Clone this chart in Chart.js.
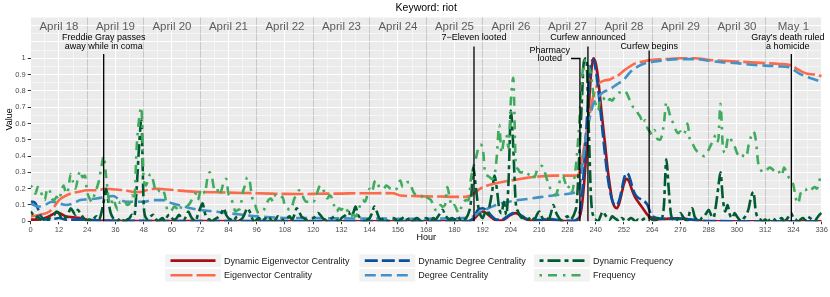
<!DOCTYPE html>
<html>
<head>
<meta charset="utf-8">
<script src="https://cdn.jsdelivr.net/npm/chart.js@4.4.1/dist/chart.umd.min.js"></script>
<style>
  html, body { margin: 0; padding: 0; background: #ffffff; }
  #wrap { width: 830px; height: 297px; }
</style>
</head>
<body>
<div id="wrap"><canvas id="chart" width="830" height="297"></canvas></div>
<script>
// x categories: hour 0 .. 336 (two weeks, hourly)
const hours = Array.from({ length: 337 }, (_, i) => i);

const dayLabels = ["April 18", "April 19", "April 20", "April 21", "April 22", "April 23", "April 24",
  "April 25", "April 26", "April 27", "April 28", "April 29", "April 30", "May 1"];

const yTickLabels = ["0", "0.1", "0.2", "0.3", "0.4", "0.5", "0.6", "0.7", "0.8", "0.9", "1"];

// Frequency, hourly
const freqValues = [
  0.22, 0.2, 0.17, 0.21, 0.2, 0.15, 0.13, 0.2, 0.19, 0.14, 0.13, 0.15,
  0.13, 0.18, 0.22, 0.17, 0.2, 0.29, 0.24, 0.2, 0.26, 0.31, 0.27, 0.28,
  0.18, 0.14, 0.12, 0.16, 0.2, 0.25, 0.33, 0.4, 0.28, 0.15, 0.1, 0.14,
  0.1, 0.07, 0.12, 0.11, 0.12, 0.1, 0.11, 0.16, 0.13, 0.45, 0.62, 0.7,
  0.26, 0.22, 0.27, 0.29, 0.25, 0.19, 0.18, 0.2, 0.19, 0.16, 0.07, 0.06,
  0.07, 0.09, 0.08, 0.06, 0.09, 0.1, 0.09, 0.1, 0.12, 0.15, 0.17, 0.13,
  0.18, 0.2, 0.17, 0.26, 0.3, 0.27, 0.2, 0.21, 0.16, 0.19, 0.24, 0.26,
  0.17, 0.15, 0.1, 0.06, 0.07, 0.08, 0.17, 0.22, 0.27, 0.25, 0.15, 0.12,
  0.07, 0.05, 0.06, 0.07, 0.1, 0.13, 0.14, 0.12, 0.16, 0.15, 0.14, 0.15,
  0.09, 0.08, 0.07, 0.09, 0.14, 0.16, 0.19, 0.18, 0.14, 0.12, 0.12, 0.13,
  0.12, 0.14, 0.19, 0.22, 0.2, 0.17, 0.14, 0.16, 0.14, 0.09, 0.06, 0.08,
  0.07, 0.09, 0.08, 0.05, 0.03, 0.04, 0.03, 0.06, 0.1, 0.13, 0.12, 0.16,
  0.2, 0.18, 0.24, 0.25, 0.21, 0.2, 0.2, 0.22, 0.21, 0.2, 0.2, 0.19,
  0.22, 0.25, 0.21, 0.23, 0.24, 0.24, 0.2, 0.17, 0.16, 0.16, 0.15, 0.17,
  0.15, 0.14, 0.13, 0.1, 0.07, 0.07, 0.1, 0.09, 0.1, 0.21, 0.14, 0.09,
  0.1, 0.07, 0.05, 0.09, 0.12, 0.13, 0.13, 0.26, 0.33, 0.38, 0.44, 0.47,
  0.45, 0.3, 0.28, 0.27, 0.26, 0.28, 0.4, 0.59, 0.42, 0.5, 0.53, 0.45,
  0.75, 0.88, 0.37, 0.32, 0.3, 0.3, 0.29, 0.28, 0.3, 0.29, 0.27, 0.31,
  0.33, 0.34, 0.32, 0.27, 0.23, 0.19, 0.17, 0.16, 0.2, 0.26, 0.28, 0.24,
  0.2, 0.22, 0.18, 0.27, 0.4, 0.6, 0.85, 0.97, 0.99, 0.95, 0.9, 0.78,
  0.72, 0.68, 0.75, 0.76, 0.74, 0.73, 0.75, 0.74, 0.76, 0.78, 0.79, 0.79,
  0.8, 0.79, 0.76, 0.72, 0.7, 0.69, 0.66, 0.64, 0.6, 0.62, 0.57, 0.55,
  0.53, 0.56, 0.51, 0.5, 0.52, 0.6, 0.73, 0.68, 0.63, 0.6, 0.56, 0.54,
  0.55, 0.53, 0.55, 0.6, 0.5, 0.48, 0.45, 0.43, 0.42, 0.41, 0.4, 0.41,
  0.44, 0.47, 0.5, 0.53, 0.49, 0.72, 0.46, 0.42, 0.5, 0.52, 0.48, 0.46,
  0.42, 0.4, 0.39, 0.41, 0.4, 0.47, 0.52, 0.55, 0.5, 0.36, 0.32, 0.3,
  0.31, 0.32, 0.33, 0.32, 0.31, 0.32, 0.3, 0.28, 0.33, 0.3, 0.27, 0.25,
  0.22, 0.14, 0.11, 0.17, 0.19, 0.2, 0.18, 0.19, 0.2, 0.21, 0.2, 0.25,
  0.28
];

// Dynamic Frequency, hourly
const dynFreqValues = [
  0.06, 0.04, 0.02, 0.03, 0.01, 0.02, 0.0, 0.01, 0.02, 0.03, 0.04, 0.06,
  0.05, 0.02, 0.01, 0.03, 0.05, 0.08, 0.06, 0.04, 0.07, 0.05, 0.03, 0.01,
  0.0, 0.01, 0.0, 0.02, 0.03, 0.01, 0.05, 0.12, 0.2, 0.12, 0.05, 0.02,
  0.01, 0.0, 0.02, 0.01, 0.0, 0.01, 0.02, 0.04, 0.03, 0.2, 0.45, 0.62,
  0.1, 0.02, 0.01, 0.03, 0.04, 0.02, 0.0, 0.01, 0.02, 0.0, 0.03, 0.04,
  0.02, 0.01, 0.02, 0.04, 0.02, 0.01, 0.03, 0.06, 0.03, 0.01, 0.0, 0.04,
  0.08, 0.11, 0.05, 0.02, 0.01, 0.0, 0.01, 0.02, 0.03, 0.05, 0.08, 0.04,
  0.02, 0.01, 0.0, 0.02, 0.03, 0.01, 0.02, 0.05, 0.08, 0.06, 0.02, 0.0,
  0.01, 0.02, 0.0, 0.01, 0.02, 0.03, 0.01, 0.0, 0.01, 0.03, 0.02, 0.01,
  0.0, 0.02, 0.03, 0.01, 0.04, 0.08, 0.06, 0.03, 0.02, 0.01, 0.0, 0.01,
  0.02, 0.03, 0.05, 0.04, 0.02, 0.01, 0.0, 0.01, 0.02, 0.03, 0.01, 0.0,
  0.02, 0.03, 0.04, 0.06, 0.03, 0.05, 0.09, 0.04, 0.02, 0.01, 0.0, 0.01,
  0.02, 0.05, 0.09, 0.06, 0.02, 0.01, 0.02, 0.01, 0.0, 0.01, 0.02, 0.01,
  0.0, 0.01, 0.02, 0.03, 0.01, 0.02, 0.0, 0.01, 0.02, 0.01, 0.0, 0.01,
  0.02, 0.01, 0.0, 0.02, 0.01, 0.03, 0.05, 0.07, 0.04, 0.02, 0.01, 0.02,
  0.01, 0.03, 0.02, 0.0, 0.01, 0.02, 0.05, 0.12, 0.33, 0.22, 0.1, 0.04,
  0.02, 0.05, 0.03, 0.1, 0.18, 0.28, 0.2, 0.08, 0.05, 0.12, 0.04, 0.25,
  0.68, 0.45, 0.12, 0.06, 0.03, 0.02, 0.03, 0.01, 0.02, 0.03, 0.01, 0.04,
  0.06, 0.03, 0.01, 0.02, 0.01, 0.05, 0.1, 0.06, 0.03, 0.01, 0.0, 0.02,
  0.03, 0.01, 0.02, 0.05, 0.12, 0.4, 0.7, 0.98, 1.0, 0.6, 0.15, 0.03,
  0.01, 0.0, 0.03, 0.06, 0.04, 0.02, 0.01, 0.03, 0.02, 0.01, 0.0, 0.02,
  0.01, 0.0, 0.01, 0.02, 0.01, 0.0, 0.01, 0.0, 0.01, 0.02, 0.03, 0.02,
  0.01, 0.0, 0.01, 0.03, 0.02, 0.1, 0.38, 0.2, 0.04, 0.01, 0.0, 0.02,
  0.05, 0.03, 0.01, 0.0, 0.06, 0.08, 0.03, 0.01, 0.0, 0.02, 0.03, 0.05,
  0.07, 0.04, 0.02, 0.09, 0.2, 0.3, 0.14, 0.06, 0.1, 0.04, 0.02, 0.05,
  0.03, 0.01, 0.0, 0.02, 0.04, 0.08, 0.15, 0.18, 0.06, 0.02, 0.01, 0.0,
  0.01, 0.0, 0.01, 0.02, 0.01, 0.0, 0.01, 0.02, 0.0, 0.01, 0.03, 0.05,
  0.02, 0.01, 0.0, 0.01, 0.02, 0.01, 0.03, 0.02, 0.01, 0.0, 0.02, 0.04,
  0.05
];

// Eigenvector Centrality (smooth, read at these hours)
const eigHours = [0, 4, 8, 10, 12, 14, 17, 20, 24, 28, 32, 36, 40, 44, 47, 50, 54, 58, 62, 66, 72, 78,
  84, 90, 96, 102, 108, 114, 120, 126, 132, 138, 144, 150, 154, 157, 162, 168, 174, 180, 185, 187,
  189, 191, 194, 198, 204, 210, 216, 222, 228, 232, 233, 234, 235, 236, 237, 238, 239, 240, 241, 243,
  246, 248, 250, 252, 254, 257, 260, 264, 270, 276, 282, 288, 294, 300, 306, 312, 318, 322, 324, 326,
  328, 330, 333, 336];
const eigValues = [0.03, 0.04, 0.06, 0.09, 0.13, 0.15, 0.17, 0.18, 0.19, 0.19, 0.2, 0.195, 0.19, 0.18,
  0.18, 0.195, 0.2, 0.195, 0.19, 0.185, 0.18, 0.178, 0.176, 0.174, 0.172, 0.17, 0.168, 0.167, 0.168,
  0.17, 0.17, 0.172, 0.172, 0.173, 0.172, 0.158, 0.155, 0.153, 0.152, 0.15, 0.15, 0.16, 0.18, 0.2,
  0.22, 0.235, 0.25, 0.265, 0.275, 0.28, 0.28, 0.28, 0.3, 0.37, 0.45, 0.54, 0.62, 0.7, 0.77, 0.81,
  0.84, 0.86, 0.87, 0.885, 0.9, 0.925, 0.945, 0.97, 0.98, 0.99, 0.995, 1.0, 1.0, 0.99, 0.985, 0.98,
  0.975, 0.97, 0.965, 0.96, 0.95, 0.93, 0.915, 0.905, 0.9, 0.89];

// Degree Centrality
const degHours = [0, 3, 6, 9, 12, 15, 18, 21, 24, 28, 32, 35, 38, 41, 44, 48, 52, 56, 60, 64, 68, 72,
  78, 84, 90, 96, 102, 108, 120, 132, 144, 156, 168, 180, 186, 188, 190, 193, 196, 200, 205, 210,
  215, 220, 226, 231, 233, 234, 235, 236, 237, 238, 239, 241, 243, 246, 249, 252, 255, 258, 261, 265,
  270, 276, 282, 288, 294, 300, 306, 312, 318, 322, 324, 326, 329, 333, 336];
const degValues = [0.11, 0.09, 0.1, 0.12, 0.11, 0.1, 0.11, 0.13, 0.135, 0.14, 0.15, 0.155, 0.13, 0.12,
  0.12, 0.12, 0.13, 0.13, 0.11, 0.095, 0.08, 0.07, 0.06, 0.05, 0.04, 0.03, 0.025, 0.02, 0.02, 0.018,
  0.017, 0.016, 0.016, 0.018, 0.022, 0.03, 0.05, 0.07, 0.09, 0.11, 0.125, 0.135, 0.145, 0.155, 0.165,
  0.175, 0.2, 0.3, 0.42, 0.52, 0.6, 0.67, 0.72, 0.76, 0.79, 0.81, 0.84, 0.87, 0.92, 0.95, 0.97, 0.98,
  0.99, 0.995, 0.995, 0.985, 0.975, 0.97, 0.96, 0.955, 0.95, 0.945, 0.93, 0.91, 0.89, 0.87, 0.855];

// Dynamic Eigenvector Centrality
const dynEigHours = [0, 3, 6, 9, 11, 13, 15, 18, 21, 24, 28, 32, 40, 60, 100, 150, 186, 188, 190, 192,
  194, 196, 198, 200, 202, 204, 206, 208, 210, 212, 216, 220, 224, 230, 232, 233, 234, 235, 236, 237,
  238, 239, 240, 241, 242, 243, 244, 245, 246, 247, 248, 249, 250, 251, 252, 253, 254, 255, 256, 257,
  258, 260, 262, 264, 266, 270, 274, 278, 281, 284, 290, 336];
const dynEigValues = [0.01, 0.01, 0.02, 0.04, 0.055, 0.045, 0.03, 0.025, 0.02, 0.01, 0.005, 0.003,
  0.002, 0.001, 0.0, 0.0, 0.0, 0.01, 0.04, 0.06, 0.045, 0.02, 0.005, 0.005, 0.02, 0.04, 0.05, 0.035,
  0.015, 0.005, 0.005, 0.01, 0.005, 0.0, 0.005, 0.02, 0.08, 0.22, 0.42, 0.68, 0.9, 1.0, 0.97, 0.88,
  0.74, 0.6, 0.47, 0.33, 0.22, 0.13, 0.09, 0.08, 0.11, 0.17, 0.23, 0.26, 0.25, 0.21, 0.17, 0.14, 0.12,
  0.08, 0.04, 0.02, 0.012, 0.015, 0.018, 0.015, 0.008, 0.002, 0.0, 0.0];

// Dynamic Degree Centrality
const dynDegHours = [0, 1, 2, 3, 4, 5, 7, 10, 12, 15, 20, 30, 40, 60, 100, 150, 186, 188, 190, 192, 194,
  196, 198, 200, 202, 204, 206, 208, 210, 212, 216, 220, 224, 230, 232, 233, 234, 235, 236, 237, 238,
  239, 240, 241, 242, 243, 244, 245, 246, 247, 248, 249, 250, 251, 252, 253, 254, 255, 256, 257, 258,
  260, 262, 263, 264, 266, 270, 276, 280, 284, 290, 336];
const dynDegValues = [0.12, 0.12, 0.11, 0.08, 0.04, 0.02, 0.01, 0.015, 0.02, 0.01, 0.01, 0.005, 0.003,
  0.002, 0.001, 0.001, 0.002, 0.02, 0.07, 0.08, 0.06, 0.03, 0.01, 0.01, 0.025, 0.045, 0.055, 0.04,
  0.02, 0.008, 0.008, 0.015, 0.008, 0.003, 0.01, 0.04, 0.13, 0.32, 0.56, 0.8, 0.96, 0.99, 0.93, 0.82,
  0.68, 0.54, 0.4, 0.28, 0.19, 0.13, 0.1, 0.1, 0.13, 0.19, 0.26, 0.295, 0.285, 0.24, 0.19, 0.16, 0.145,
  0.13, 0.1, 0.06, 0.035, 0.02, 0.015, 0.015, 0.012, 0.005, 0.001, 0.0];

// Events marked on the chart
const eventHours = [31, 188.3, 233.3, 236.7, 262.7, 323.1];
const eventLabels = [
  ["Freddie Gray passes", "away while in coma"],
  ["7\u2212Eleven looted"],
  ["Pharmacy", "looted"],
  ["Curfew announced"],
  ["Curfew begins"],
  ["Gray's death ruled", "a homicide"]
];

const FONT = '"Liberation Sans", Arial, Helvetica, sans-serif';
Chart.defaults.font.family = FONT;

const pts = (hs, vs) => hs.map((h, i) => ({ x: h, y: vs[i] }));

// Legend order in the picture: row 1 dynamic, row 2 static; columns eig / deg / freq
const datasets = [
  { label: "Dynamic Eigenvector Centrality", data: pts(dynEigHours, dynEigValues),
    borderColor: "#a50f15", borderDash: [], order: 5, tension: 0.4 },
  { label: "Eigenvector Centrality", data: pts(eigHours, eigValues),
    borderColor: "#fb6a4a", borderDash: [22, 4], order: 4, tension: 0.4 },
  { label: "Dynamic Degree Centrality", data: pts(dynDegHours, dynDegValues),
    borderColor: "#08519c", borderDash: [13, 4], order: 3, tension: 0.4 },
  { label: "Degree Centrality", data: pts(degHours, degValues),
    borderColor: "#4292c6", borderDash: [11, 5], order: 2, tension: 0.4 },
  { label: "Dynamic Frequency", data: pts(hours, dynFreqValues),
    borderColor: "#005a32", borderDash: [4, 4, 13, 4], order: 1, tension: 0 },
  { label: "Frequency", data: pts(hours, freqValues),
    borderColor: "#41ab5d", borderDash: [2.5, 6, 9, 6], order: 0, tension: 0 }
].map(d => Object.assign({
  borderWidth: 2.6,
  pointRadius: 0,
  fill: false,
  borderCapStyle: "butt",
  borderJoinStyle: "round",
  cubicInterpolationMode: "monotone"
}, d));

// grey panel behind everything
const panelPlugin = {
  id: "panel",
  beforeDraw(chart) {
    const { ctx, chartArea: a } = chart;
    ctx.save();
    ctx.fillStyle = "#ffffff";
    ctx.fillRect(0, 0, chart.width, chart.height);
    ctx.fillStyle = "#ebebeb";
    ctx.fillRect(a.left, a.top, a.right - a.left, a.bottom - a.top);
    ctx.restore();
  },
  beforeDatasetsDraw(chart) {
    // day names along the top of the panel
    const { ctx } = chart;
    const xs = chart.scales.x;
    ctx.save();
    ctx.font = "11.5px " + FONT;
    ctx.fillStyle = "#5c5c5c";
    ctx.textAlign = "center";
    ctx.textBaseline = "middle";
    dayLabels.forEach((d, i) => {
      ctx.fillText(d, xs.getPixelForValue(i * 24 + 12), 26.5);
    });
    ctx.restore();
  }
};

// label rows (px) and top of each event line (px)
const eventLayout = [
  { rows: [37.5, 46.5], top: 54, dx: 0 },
  { rows: [37.5], top: 46.5, dx: 0 },
  { rows: [50.7, 58.5], top: 58.5, labelX: 549.7, elbow: true },
  { rows: [37.5], top: 46.5, dx: 0 },
  { rows: [46.5], top: 50.5, dx: 0 },
  { rows: [37.5, 46.5], top: 54, dx: -3.5 }
];

const eventPlugin = {
  id: "events",
  afterDatasetsDraw(chart) {
    const { ctx, chartArea: a } = chart;
    const xs = chart.scales.x;
    ctx.save();
    ctx.strokeStyle = "#000000";
    ctx.lineWidth = 1.3;
    ctx.fillStyle = "#000000";
    ctx.font = "9px " + FONT;
    ctx.textAlign = "center";
    ctx.textBaseline = "middle";
    eventHours.forEach((h, i) => {
      const lay = eventLayout[i];
      const x = xs.getPixelForValue(h);
      const lx = lay.labelX !== undefined ? lay.labelX : x + lay.dx;
      ctx.beginPath();
      if (lay.elbow) {
        ctx.moveTo(571, lay.top);
        ctx.lineTo(x, lay.top);
      } else {
        ctx.moveTo(x, lay.top);
      }
      ctx.lineTo(x, a.bottom);
      ctx.stroke();
      eventLabels[i].forEach((t, r) => ctx.fillText(t, lx, lay.rows[r]));
    });
    ctx.restore();
  }
};

const legendPlugin = {
  id: "customLegend",
  afterDraw(chart) {
    const { ctx } = chart;
    const cols = [165, 359.3, 534];
    const rows = [254.3, 269];
    const grid = [[0, 2, 4], [1, 3, 5]];
    ctx.save();
    // title
    ctx.fillStyle = "#000000";
    ctx.font = "10.5px " + FONT;
    ctx.textAlign = "center";
    ctx.textBaseline = "middle";
    const a = chart.chartArea;
    ctx.fillText("Keyword: riot", (a.left + a.right) / 2, 8.5);

    ctx.font = "9px " + FONT;
    ctx.textAlign = "left";
    grid.forEach((row, r) => {
      row.forEach((di, c) => {
        const ds = chart.data.datasets[di];
        const bx = cols[c], by = rows[r], bw = 56, bh = 12.6;
        ctx.fillStyle = "#f2f2f2";
        ctx.fillRect(bx, by, bw, bh);
        ctx.strokeStyle = ds.borderColor;
        ctx.lineWidth = ds.borderWidth;
        ctx.lineCap = "butt";
        ctx.setLineDash(ds.borderDash);
        ctx.beginPath();
        ctx.moveTo(bx + 5.5, by + bh / 2);
        ctx.lineTo(bx + bw - 5.5, by + bh / 2);
        ctx.stroke();
        ctx.setLineDash([]);
        ctx.fillStyle = "#1a1a1a";
        ctx.fillText(ds.label, bx + bw + 3, by + bh / 2 + 0.5);
      });
    });
    ctx.restore();
  }
};

const isMulti = (v, step) => Math.abs(v / step - Math.round(v / step)) < 1e-6;

new Chart(document.getElementById("chart"), {
  type: "line",
  data: { datasets },
  options: {
    responsive: false,
    animation: false,
    devicePixelRatio: 1,
    parsing: true,
    layout: { padding: { left: 0, right: 8.3, top: 17.5, bottom: 52.7 } },
    plugins: { legend: { display: false }, tooltip: { enabled: false } },
    scales: {
      x: {
        type: "linear",
        min: 0,
        max: 336,
        border: { display: false },
        afterFit(s) { s.height = 23; },
        ticks: {
          stepSize: 6,
          autoSkip: false,
          maxRotation: 0,
          minRotation: 0,
          padding: 1,
          color: "#4d4d4d",
          font: { size: 7.5 },
          callback: v => (isMulti(v, 12) ? String(v) : "")
        },
        grid: {
          tickLength: 3,
          color: c => {
            const v = c.tick ? c.tick.value : 0;
            return (v > 0 && v < 336 && isMulti(v, 24)) ? "#c8c8c8" : "#ffffff";
          },
          lineWidth: c => (c.tick && isMulti(c.tick.value, 12) ? 1 : 0.5),
          tickColor: c => (c.tick && isMulti(c.tick.value, 12) ? "#333333" : "rgba(0,0,0,0)")
        },
        title: { display: true, text: "Hour", color: "#000000", font: { size: 9 }, padding: { top: 0, bottom: 1 } }
      },
      y: {
        min: 0,
        max: 1.25,
        border: { display: false },
        afterFit(s) { s.width = 30.7; },
        ticks: {
          stepSize: 0.05,
          autoSkip: false,
          padding: 2,
          color: "#4d4d4d",
          font: { size: 7.5 },
          callback: v => (isMulti(v, 0.1) && v <= 1.0001 ? yTickLabels[Math.round(v * 10)] : "")
        },
        grid: {
          tickLength: 3,
          color: c => (c.tick && c.tick.value > 1.2001 ? "rgba(0,0,0,0)" : "#ffffff"),
          lineWidth: c => (c.tick && isMulti(c.tick.value, 0.1) ? 1 : 0.5),
          tickColor: c => (c.tick && isMulti(c.tick.value, 0.1) && c.tick.value <= 1.0001 ? "#333333" : "rgba(0,0,0,0)")
        },
        title: { display: true, text: "Value", color: "#000000", font: { size: 9 }, padding: { top: 4, bottom: 0 } }
      }
    }
  },
  plugins: [panelPlugin, eventPlugin, legendPlugin]
});
</script>
</body>
</html>
